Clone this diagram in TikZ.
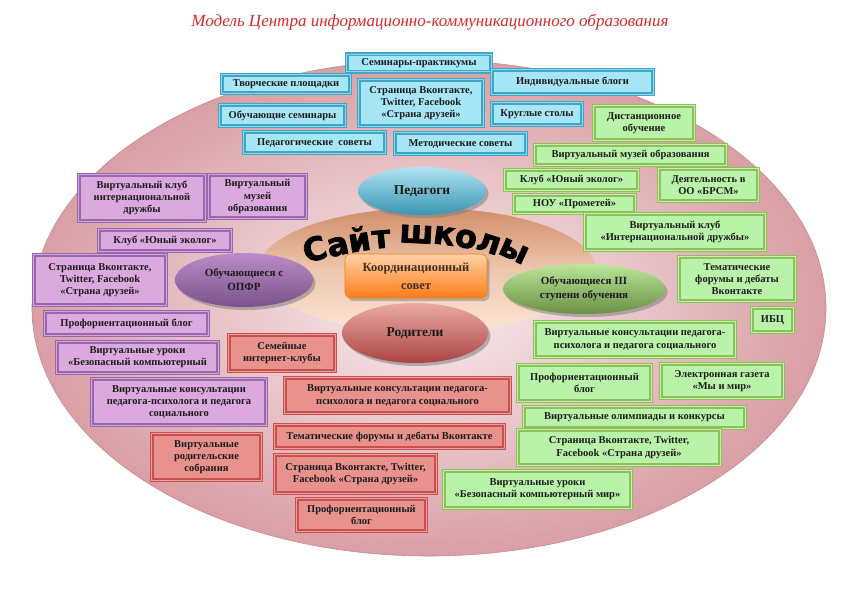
\documentclass[tikz,border=0pt]{standalone}
\usepackage{fontspec}
\setmainfont{Liberation Serif}
\newfontfamily\heavyfont{DejaVu Sans}[BoldFeatures={FakeBold=2.2}]
\usetikzlibrary{shapes.geometric,shadows}
\definecolor{bgin}{HTML}{F8ECEE}
\definecolor{bgout}{HTML}{D99FA5}
\definecolor{bgline}{HTML}{C48C92}
\definecolor{inTop}{HTML}{D08E68}
\definecolor{inBot}{HTML}{FCE5D4}
\definecolor{blueB}{HTML}{3FA6C6}
\definecolor{blueL}{HTML}{8ED6EC}
\definecolor{blueF}{HTML}{A6E6F6}
\definecolor{greenB}{HTML}{8DBF5C}
\definecolor{greenL}{HTML}{C6F0A8}
\definecolor{greenF}{HTML}{B9F2A9}
\definecolor{purB}{HTML}{9867AE}
\definecolor{purL}{HTML}{D2A4DA}
\definecolor{purF}{HTML}{DBA9DD}
\definecolor{redB}{HTML}{C9504F}
\definecolor{redL}{HTML}{E9A09C}
\definecolor{redF}{HTML}{E9928D}
\definecolor{txt}{HTML}{1C1C1C}
\definecolor{ttl}{HTML}{D42A2E}
\newcommand\mybox[7]{\node[#1,minimum width=#5pt-3.5pt,minimum height=#6pt-3.5pt] (#2) at (#3,#4) {#7};}
\tikzset{
  box/.style={draw, line width=1.5pt, double distance=1pt, align=center, inner sep=1pt,
    font=\bfseries\fontsize{10.5}{12.3}\selectfont, text=txt},
  bluebox/.style={box, draw=blueB, double=blueL, fill=blueF},
  greenbox/.style={box, draw=greenB, double=greenL, fill=greenF},
  purbox/.style={box, draw=purB, double=purL, fill=purF},
  redbox/.style={box, draw=redB, double=redL, fill=redF},
  oval/.style={ellipse, draw=none, align=center, text=txt, inner sep=0pt,
    drop shadow={shadow xshift=2.5pt, shadow yshift=-3pt, opacity=0.55}},
  letter/.style={anchor=base, inner sep=0pt, font=\heavyfont\bfseries\fontsize{32}{32}\selectfont, text=black}
}
\begin{document}
\begin{tikzpicture}[x=1pt,y=-1pt]
\useasboundingbox (0,0) rectangle (842,595);
\fill[white] (0,0) rectangle (842,595);
% title
\node[font=\itshape\fontsize{17}{20}\selectfont, text=ttl] (title) at (430,22) {Модель Центра информационно-коммуникационного образования};
% big ellipse
\shade[inner color=bgin, outer color=bgout] (429,308) ellipse (397 and 248);
\draw[bgline, line width=0.6pt] (429,308) ellipse (397 and 248);
% inner ellipse
\shade[top color=inTop, bottom color=inBot, middle color=inBot!65!inTop] (427,270) ellipse (169 and 62);
% Сайт школы
\node[letter, rotate=17] (l1) at (318,260) {С};
\node[letter, rotate=13] (l2) at (340,255) {а};
\node[letter, rotate=9] (l3) at (361,251) {й};
\node[letter, rotate=5] (l4) at (382,248) {т};
\node[letter, rotate=-3] (l5) at (416,243) {ш};
\node[letter, rotate=-8] (l6) at (443,244.5) {к};
\node[letter, rotate=-13] (l7) at (464,247.5) {о};
\node[letter, rotate=-18] (l8) at (486,252) {л};
\node[letter, rotate=-25] (l9) at (510,259) {ы};
% central ovals
\node[oval, minimum width=128pt, minimum height=48pt, top color=blueL!70!white, bottom color=blueB!90!black,
  font=\bfseries\fontsize{13.5}{15}\selectfont] (ped) at (422,191) {Педагоги};
\node[oval, minimum width=138pt, minimum height=54pt, top color=purL!60!purB, bottom color=purB!80!black,
  font=\bfseries\fontsize{11}{14}\selectfont] (opfr) at (244,280) {Обучающиеся с\\ОПФР};
\node[oval, minimum width=162pt, minimum height=50pt, top color=greenL!80!greenB, bottom color=greenB!75!black,
  font=\bfseries\fontsize{11}{14}\selectfont] (stup) at (584,289) {Обучающиеся III\\ступени обучения};
\node[oval, minimum width=146pt, minimum height=60pt, top color=redL!90!white, bottom color=redB!85!black,
  font=\bfseries\fontsize{13.5}{15}\selectfont] (rod) at (415,333) {Родители};
\node[rounded corners=6pt, draw=orange!80!brown, line width=0.6pt, top color=orange!35!white, bottom color=orange!85!red!90!white,
  minimum width=142pt, minimum height=44pt, align=center, text=txt!80!brown,
  drop shadow={shadow xshift=2.5pt, shadow yshift=-3pt, opacity=0.5},
  font=\bfseries\fontsize{12.5}{18}\selectfont] (koord) at (416,276) {Координационный\\совет};
% blue boxes
\mybox{bluebox}{b1}{419}{63}{148}{21}{Семинары-практикумы}
\mybox{bluebox}{b2}{286}{84}{132}{22}{Творческие площадки}
\mybox{bluebox}{b3}{421}{103}{128}{50}{Страница Вконтакте,\\Twitter, Facebook\\«Страна друзей»}
\mybox{bluebox}{b4}{282.5}{115.5}{129}{25}{Обучающие семинары}
\mybox{bluebox}{b5}{314.5}{142.5}{145}{25}{Педагогические\ \ советы}
\mybox{bluebox}{b6}{460.5}{143.5}{135}{25}{Методические советы}
\mybox{bluebox}{b7}{572.5}{82}{165}{28}{Индивидуальные блоги}
\mybox{bluebox}{b8}{537}{114}{94}{26}{Круглые столы}
% green boxes
\mybox{greenbox}{g1}{644}{123}{104}{38}{Дистанционное\\обучение}
\mybox{greenbox}{g2}{630.5}{155}{195}{24}{Виртуальный музей образования}
\mybox{greenbox}{g3}{571.5}{180}{137}{24}{Клуб «Юный эколог»}
\mybox{greenbox}{g4}{708.5}{185}{103}{36}{Деятельность в\\ОО «БРСМ»}
\mybox{greenbox}{g5}{574.5}{204}{125}{22}{НОУ «Прометей»}
\mybox{greenbox}{g6}{675}{232}{184}{40}{Виртуальный клуб\\«Интернациональной дружбы»}
\mybox{greenbox}{g7}{737}{279}{120}{48}{Тематические\\форумы и дебаты\\Вконтакте}
\mybox{greenbox}{g8}{772.5}{320}{45}{28}{ИБЦ}
\mybox{greenbox}{g9}{635}{339.5}{204}{39}{Виртуальные консультации педагога-\\психолога и педагога социального}
\mybox{greenbox}{g10}{584.5}{383}{137}{40}{Профориентационный\\блог}
\mybox{greenbox}{g11}{722}{381}{126}{38}{Электронная газета\\«Мы и мир»}
\mybox{greenbox}{g12}{634.5}{417.5}{225}{25}{Виртуальные олимпиады и конкурсы}
\mybox{greenbox}{g13}{619}{447.5}{206}{39}{Страница Вконтакте, Twitter,\\Facebook «Страна друзей»}
\mybox{greenbox}{g14}{537.5}{489.5}{191}{41}{Виртуальные уроки\\«Безопасный компьютерный мир»}
% purple boxes
\mybox{purbox}{p1}{142}{198}{130}{50}{Виртуальный клуб\\интернациональной\\дружбы}
\mybox{purbox}{p2}{257.5}{196.5}{101}{47}{Виртуальный\\музей\\образования}
\mybox{purbox}{p3}{165}{240.5}{136}{25}{Клуб «Юный эколог»}
\mybox{purbox}{p4}{100}{280}{136}{54}{Страница Вконтакте,\\Twitter, Facebook\\«Страна друзей»}
\mybox{purbox}{p5}{126.5}{323.5}{167}{27}{Профориентационный блог}
\mybox{purbox}{p6}{137.5}{357.5}{165}{35}{Виртуальные уроки\\«Безопасный компьютерный}
\mybox{purbox}{p7}{179}{402}{178}{50}{Виртуальные консультации\\педагога-психолога и педагога\\социального}
% red boxes
\mybox{redbox}{r1}{282}{353}{110}{40}{Семейные\\интернет-клубы}
\mybox{redbox}{r2}{397.5}{395.5}{229}{39}{Виртуальные консультации педагога-\\психолога и педагога социального}
\mybox{redbox}{r3}{389.5}{436.5}{233}{27}{Тематические форумы и дебаты Вконтакте}
\mybox{redbox}{r4}{206.5}{457}{113}{50}{Виртуальные\\родительские\\собрания}
\mybox{redbox}{r5}{355.5}{474}{165}{42}{Страница Вконтакте, Twitter,\\Facebook «Страна друзей»}
\mybox{redbox}{r6}{361.5}{515}{133}{36}{Профориентационный\\блог}
\end{tikzpicture}
\end{document}
